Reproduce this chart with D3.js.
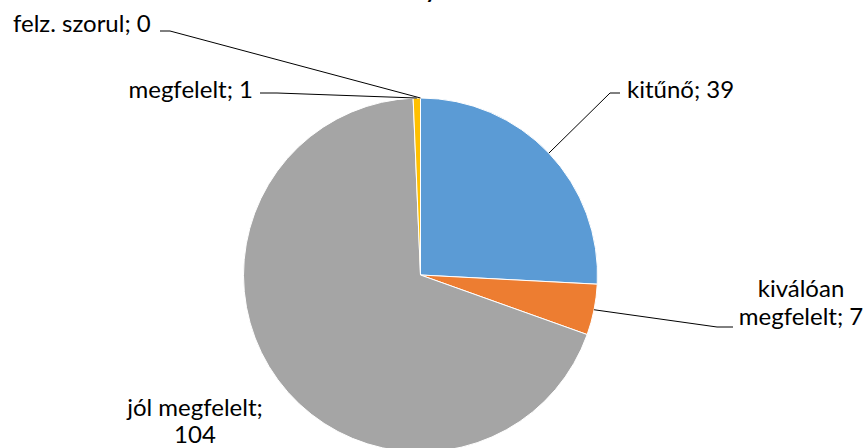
<!DOCTYPE html>
<html>
<head>
<meta charset="utf-8">
<script src="https://cdn.jsdelivr.net/npm/d3@7"></script>
<style>
  html, body { margin: 0; padding: 0; background: #fff; }
  svg text { font-family: Lato, "Open Sans", sans-serif; fill: #000; }
</style>
</head>
<body>
<svg id="chart" width="868" height="448"></svg>
<script>
// ---- data ----
const categories = ["kitűnő", "kiválóan megfelelt", "jól megfelelt", "megfelelt", "felz. szorul"];
const values = [39, 7, 104, 1, 0];
const colors = ["#5B9BD5", "#ED7D31", "#A5A5A5", "#FFC000", "#4472C4"];
// label text lines (as shown on the chart)
const labelLines = [
  ["kitűnő; 39"],
  ["kiválóan", "megfelelt; 7"],
  ["jól megfelelt;", "104"],
  ["megfelelt; 1"],
  ["felz. szorul; 0"]
];

// ---- layout ----
const W = 868, H = 448;
const cx = 420.5, cy = 275, R = 177;
const fontSize = 24;
const labelLayout = [
  { x: 627, y: 98, anchor: "start", lineH: 28, elbow: [[620, 93], [610, 93]] },
  { x: 801, y: 297, anchor: "middle", lineH: 28, elbow: [[733, 327], [717, 327]] },
  { x: 195, y: 416, anchor: "middle", lineH: 27, elbow: null },
  { x: 253, y: 98, anchor: "end", lineH: 28, elbow: [[260, 93], [277, 93]] },
  { x: 13, y: 32, anchor: "start", lineH: 28, elbow: [[160, 31], [170, 31]] }
];

const svg = d3.select("#chart");

// partial (clipped) title glyph at the very top, as in the reference
svg.append("text")
  .attr("x", 431).attr("y", -2)
  .attr("text-anchor", "middle")
  .style("font-weight", "bold")
  .style("font-size", "22px")
  .text("y");

const pie = d3.pie().sort(null).value(d => d)
  .startAngle(0).endAngle(2 * Math.PI);
const arcs = pie(values);
const arc = d3.arc().innerRadius(0).outerRadius(R);

const g = svg.append("g").attr("transform", `translate(${cx},${cy})`);

g.selectAll("path.slice")
  .data(arcs)
  .enter().append("path")
  .attr("class", "slice")
  .attr("d", arc)
  .attr("fill", (d, i) => colors[i])
  .attr("stroke", "#fff")
  .attr("stroke-width", 1);

// leader lines
arcs.forEach((a, i) => {
  const L = labelLayout[i];
  if (!L.elbow) return;
  const mid = (a.startAngle + a.endAngle) / 2;
  const px = cx + R * Math.sin(mid);
  const py = cy - R * Math.cos(mid);
  const pts = [...L.elbow, [px, py]];
  svg.append("path")
    .attr("d", d3.line()(pts))
    .attr("fill", "none")
    .attr("stroke", "#000")
    .attr("stroke-width", 1);
});

// labels
labelLines.forEach((lines, i) => {
  const L = labelLayout[i];
  const t = svg.append("text")
    .attr("text-anchor", L.anchor)
    .style("font-size", fontSize + "px");
  lines.forEach((ln, j) => {
    t.append("tspan")
      .attr("x", L.x)
      .attr("y", L.y + j * L.lineH)
      .text(ln);
  });
});
</script>
</body>
</html>
